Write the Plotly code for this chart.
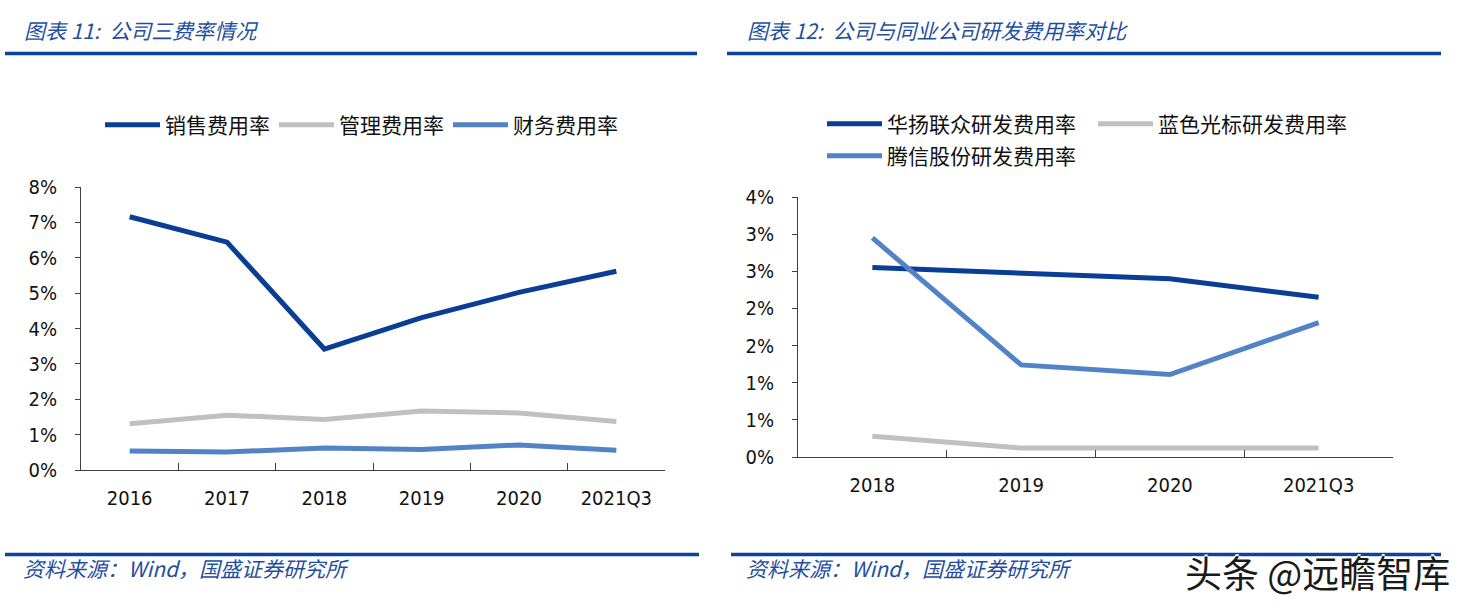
import plotly.graph_objects as go

# ---------------- data ----------------
LEFT_CATS = ["2016", "2017", "2018", "2019", "2020", "2021Q3"]
SALES_RATE = [7.16, 6.44, 3.42, 4.31, 5.02, 5.62]      # 销售费用率
ADMIN_RATE = [1.31, 1.55, 1.43, 1.67, 1.61, 1.37]      # 管理费用率
FIN_RATE = [0.54, 0.51, 0.62, 0.58, 0.71, 0.56]        # 财务费用率
LEFT_Y_TICKVALS = [0, 1, 2, 3, 4, 5, 6, 7, 8]
LEFT_Y_TICKTEXT = ["0%", "1%", "2%", "3%", "4%", "5%", "6%", "7%", "8%"]

RIGHT_CATS = ["2018", "2019", "2020", "2021Q3"]
HUAYANG_RD = [2.55, 2.48, 2.40, 2.15]                  # 华扬联众研发费用率
BLUEFOCUS_RD = [0.28, 0.12, 0.12, 0.12]                # 蓝色光标研发费用率
TENGXIN_RD = [2.95, 1.24, 1.11, 1.81]                  # 腾信股份研发费用率
RIGHT_Y_TICKVALS = [0, 0.5, 1, 1.5, 2, 2.5, 3, 3.5]
RIGHT_Y_TICKTEXT = ["0%", "1%", "1%", "2%", "2%", "3%", "3%", "4%"]

TITLE_LEFT = "图表 11:  公司三费率情况"
TITLE_RIGHT = "图表 12:  公司与同业公司研发费用率对比"
SOURCE_TEXT = "资料来源：Wind，国盛证券研究所"
WATERMARK = "头条 @远瞻智库"

# ---------------- style ----------------
W, H = 1469, 610
DARK = "#0A3D94"
GRAY = "#C0C0C0"
LIGHT = "#5183C6"
HEAD = "#0B449C"
TITLE_COLOR = "#1F4E9F"
AXIS_COLOR = "#404040"
TICK_FONT = dict(family="DejaVu Sans Condensed, DejaVu Sans, sans-serif", size=20, color="#111111")
CJK = "Noto Sans CJK SC"
LEG_FONT = dict(family=CJK, size=21, color="#111111")


def px_x(x):
    return x / W


def px_y(y):
    return 1 - y / H


fig = go.Figure()

for name, vals, col in [("销售费用率", SALES_RATE, DARK),
                        ("管理费用率", ADMIN_RATE, GRAY),
                        ("财务费用率", FIN_RATE, LIGHT)]:
    fig.add_trace(go.Scatter(x=LEFT_CATS, y=vals, name=name, mode="lines",
                             line=dict(color=col, width=5), xaxis="x", yaxis="y",
                             legend="legend"))

for name, vals, col, leg in [("华扬联众研发费用率", HUAYANG_RD, DARK, "legend2"),
                             ("蓝色光标研发费用率", BLUEFOCUS_RD, GRAY, "legend2"),
                             ("腾信股份研发费用率", TENGXIN_RD, LIGHT, "legend3")]:
    fig.add_trace(go.Scatter(x=RIGHT_CATS, y=vals, name=name, mode="lines",
                             line=dict(color=col, width=5), xaxis="x2", yaxis="y2",
                             legend=leg))

xcommon = dict(type="category", showgrid=False, zeroline=False, showline=True,
               linecolor=AXIS_COLOR, linewidth=1, ticks="inside", tickson="boundaries",
               ticklen=7, tickcolor=AXIS_COLOR, tickfont=TICK_FONT, ticklabelstandoff=10,
               fixedrange=True)
ycommon = dict(showgrid=False, zeroline=False, showline=True, linecolor=AXIS_COLOR,
               linewidth=1, ticks="outside", ticklen=5, tickcolor=AXIS_COLOR,
               tickfont=TICK_FONT, ticklabelstandoff=14, fixedrange=True)

leg_common = dict(orientation="h", xanchor="left", yanchor="middle", font=LEG_FONT,
                  itemwidth=55, bgcolor="rgba(0,0,0,0)", traceorder="normal")

fig.update_layout(
    width=W, height=H,
    margin=dict(l=0, r=0, t=0, b=0, autoexpand=False),
    paper_bgcolor="white", plot_bgcolor="white",
    showlegend=True,
    xaxis=dict(domain=[px_x(81), px_x(665)], anchor="y", range=[-0.5, 5.5], **xcommon),
    yaxis=dict(domain=[px_y(470), px_y(187)], anchor="x", range=[0, 8],
               tickvals=LEFT_Y_TICKVALS, ticktext=LEFT_Y_TICKTEXT, **ycommon),
    xaxis2=dict(domain=[px_x(798), px_x(1393)], anchor="y2", range=[-0.5, 3.5], **xcommon),
    yaxis2=dict(domain=[px_y(457), px_y(197)], anchor="x2", range=[0, 3.5],
                tickvals=RIGHT_Y_TICKVALS, ticktext=RIGHT_Y_TICKTEXT, **ycommon),
    legend=dict(x=px_x(100), y=px_y(125), entrywidth=104, **leg_common),
    legend2=dict(x=px_x(822), y=px_y(124), entrywidth=201, **leg_common),
    legend3=dict(x=px_x(822), y=px_y(156), entrywidth=201, **leg_common),
)

shapes = []
for x0, x1, y in [(5, 697, 53.5), (727, 1441, 53.5), (5, 699, 554.5), (731, 1441, 554.5)]:
    shapes.append(dict(type="line", xref="paper", yref="paper", x0=px_x(x0), x1=px_x(x1),
                       y0=px_y(y), y1=px_y(y), line=dict(color=HEAD, width=3.5)))
fig.update_layout(shapes=shapes)

ann = []
for x, txt in [(22, TITLE_LEFT), (745, TITLE_RIGHT)]:
    ann.append(dict(text=txt, xref="paper", yref="paper", x=px_x(x), y=px_y(30),
                    xanchor="left", yanchor="middle", showarrow=False,
                    font=dict(family=CJK, size=21, color=TITLE_COLOR, style="italic")))
for x in (21, 744):
    ann.append(dict(text=SOURCE_TEXT, xref="paper", yref="paper", x=px_x(x), y=px_y(568),
                    xanchor="left", yanchor="middle", showarrow=False,
                    font=dict(family=CJK, size=21, color=TITLE_COLOR, style="italic")))
ann.append(dict(text=WATERMARK, xref="paper", yref="paper", x=px_x(1452), y=px_y(572),
                xanchor="right", yanchor="middle", showarrow=False,
                font=dict(family=CJK, size=37, color="#1a1a1a",
                          shadow="2px 0 0 white, -2px 0 0 white, 0 2px 0 white, 0 -2px 0 white")))
fig.update_layout(annotations=ann)

fig.write_html("out.html")
